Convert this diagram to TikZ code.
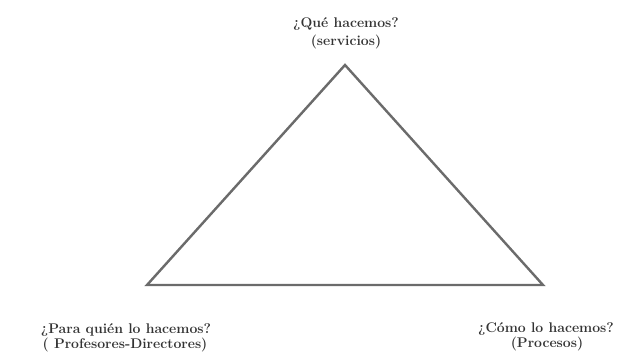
\documentclass[tikz,border=0pt]{standalone}
\begin{document}
\begin{tikzpicture}[x=1pt,y=-1pt,
  lbl/.style={font=\fontsize{14}{16}\selectfont\bfseries, text=black!80, inner sep=0pt, align=center},
  edge/.style={draw=black!58, line width=2.4pt, line join=miter}]
\useasboundingbox[fill=white] (0,0) rectangle (631,360);
\coordinate (A) at (345,65);
\coordinate (B) at (147,285);
\coordinate (C) at (543,285);
\draw[edge] (A) -- (B) -- (C) -- cycle;
\node[lbl] (t1) at (346,24) {¿Qué hacemos?};
\node[lbl] (t2) at (346,42) {(servicios)};
\node[lbl] (l1) at (126,330) {¿Para quién lo hacemos?};
\node[lbl] (l2) at (125,345) {( Profesores-Directores)};
\node[lbl] (r1) at (546,329) {¿Cómo lo hacemos?};
\node[lbl] (r2) at (547,344) {(Procesos)};
\end{tikzpicture}
\end{document}
